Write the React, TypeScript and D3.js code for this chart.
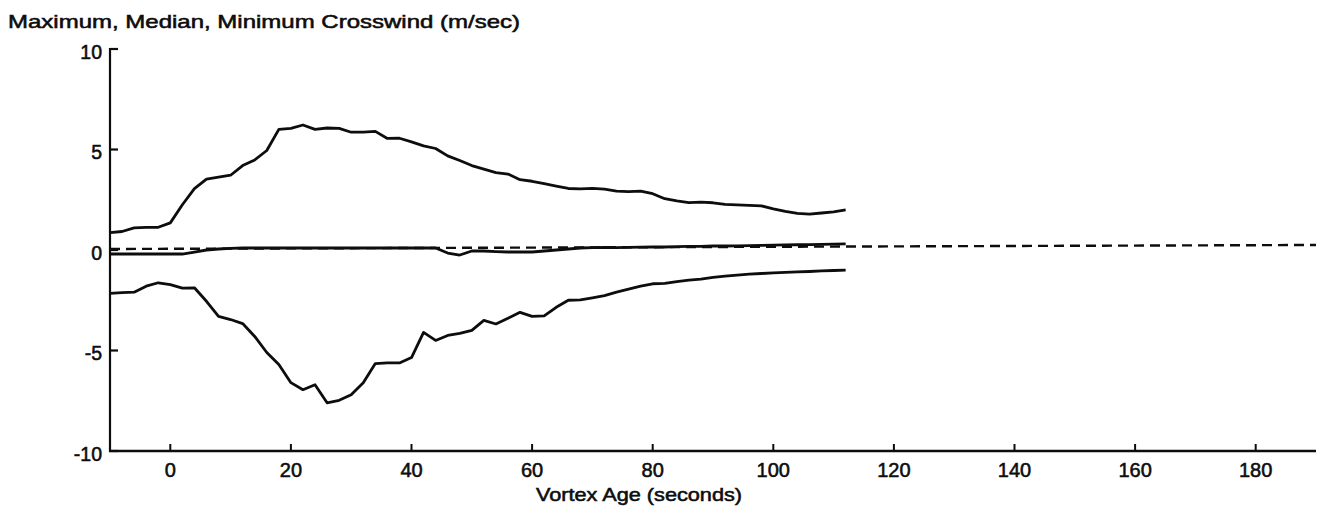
import React from "react";
import * as d3 from "d3";

const times = [
  -10, -8, -6, -4, -2, 0, 2, 4, 6, 8, 10, 12, 14, 16, 18, 20, 22, 24, 26, 28,
  30, 32, 34, 36, 38, 40, 42, 44, 46, 48, 50, 52, 54, 56, 58, 60, 62, 64, 66,
  68, 70, 72, 74, 76, 78, 80, 82, 84, 86, 88, 90, 92, 94, 96, 98, 100, 102,
  104, 106, 108, 110, 112,
];

const maxWind = [
  0.86, 0.92, 1.1, 1.13, 1.13, 1.35, 2.25, 3.05, 3.53, 3.62, 3.72, 4.2, 4.48,
  4.95, 6.0, 6.05, 6.22, 6.0, 6.07, 6.05, 5.86, 5.86, 5.9, 5.55, 5.56, 5.38,
  5.18, 5.05, 4.68, 4.45, 4.2, 4.02, 3.85, 3.78, 3.5, 3.42, 3.3, 3.18, 3.06,
  3.04, 3.07, 3.03, 2.93, 2.9, 2.93, 2.8, 2.55, 2.44, 2.36, 2.38, 2.35, 2.27,
  2.25, 2.22, 2.2, 2.05, 1.92, 1.82, 1.78, 1.84, 1.9, 2.0,
];

const medianWind = [
  -0.2, -0.2, -0.2, -0.2, -0.2, -0.2, -0.2, -0.1, 0.0, 0.05, 0.08, 0.1, 0.1,
  0.1, 0.1, 0.1, 0.1, 0.1, 0.1, 0.1, 0.1, 0.1, 0.1, 0.1, 0.1, 0.1, 0.1, 0.1,
  -0.15, -0.25, -0.05, -0.05, -0.08, -0.1, -0.1, -0.1, -0.05, 0.0, 0.05, 0.1,
  0.12, 0.13, 0.12, 0.13, 0.14, 0.15, 0.15, 0.17, 0.18, 0.18, 0.2, 0.2, 0.21,
  0.22, 0.23, 0.24, 0.25, 0.26, 0.27, 0.28, 0.29, 0.3,
];

const minWind = [
  -2.16, -2.12, -2.1, -1.8, -1.63, -1.72, -1.9, -1.88, -2.55, -3.3, -3.46,
  -3.66, -4.3, -5.1, -5.7, -6.6, -6.95, -6.7, -7.6, -7.48, -7.2, -6.6, -5.65,
  -5.62, -5.62, -5.35, -4.1, -4.5, -4.25, -4.15, -4.0, -3.5, -3.68, -3.4,
  -3.1, -3.3, -3.28, -2.85, -2.5, -2.48, -2.38, -2.27, -2.1, -1.95, -1.8,
  -1.68, -1.66, -1.57, -1.5, -1.45, -1.36, -1.3, -1.25, -1.2, -1.17, -1.14,
  -1.11, -1.09, -1.07, -1.04, -1.02, -1.0,
];

const zeroRefTimes = [-10, 190];
const zeroRefValues = [0.05, 0.25];

const xTicks = [0, 20, 40, 60, 80, 100, 120, 140, 160, 180];
const yTicks = [10, 5, 0, -5, -10];

const title = "Maximum, Median, Minimum Crosswind (m/sec)";
const xLabel = "Vortex Age (seconds)";

const FONT = "'Liberation Sans', Arial, Helvetica, sans-serif";
const INK = "#0d0d0d";

export default function App() {
  const x = d3.scaleLinear().domain([-10, 190]).range([110, 1316]);
  const y = d3.scaleLinear().domain([-10, 10]).range([451, 49]);

  const line = d3
    .line<number>()
    .x((_, i) => x(times[i]))
    .y((d) => y(d));

  const refLine = d3
    .line<number>()
    .x((_, i) => x(zeroRefTimes[i]))
    .y((d) => y(d));

  const x0 = x.range()[0];
  const xEnd = x.range()[1];
  const yBottom = y(-10);
  const yTop = y(10);

  const textStyle = {
    fontFamily: FONT,
    fill: INK,
    stroke: INK,
    strokeWidth: 0.55,
  } as const;

  return (
    <svg
      width={1334}
      height={514}
      style={{ position: "absolute", left: 0, top: 0, background: "#fff" }}
    >
      <rect x={0} y={0} width={1334} height={514} fill="#fff" />
      <text
        x={8}
        y={28}
        {...textStyle}
        fontSize={18.5}
        textLength={512}
        lengthAdjust="spacingAndGlyphs"
      >
        {title}
      </text>

      {/* axes */}
      <line x1={x0} y1={yTop - 1} x2={x0} y2={yBottom + 1} stroke={INK} strokeWidth={2.2} />
      <line x1={x0 - 1} y1={yBottom} x2={xEnd} y2={yBottom} stroke={INK} strokeWidth={2.6} />

      {yTicks.map((t) => (
        <g key={"y" + t}>
          <line x1={x0} y1={y(t)} x2={x0 + 8} y2={y(t)} stroke={INK} strokeWidth={2.2} />
          <text x={102} y={y(t) + 9.5} textAnchor="end" {...textStyle} fontSize={19.5}>
            {t}
          </text>
        </g>
      ))}

      {xTicks.map((t) => (
        <g key={"x" + t}>
          <line x1={x(t)} y1={yBottom} x2={x(t)} y2={yBottom - 7} stroke={INK} strokeWidth={2} />
          <text x={x(t)} y={477} textAnchor="middle" {...textStyle} fontSize={20}>
            {t}
          </text>
        </g>
      ))}

      <text
        x={639}
        y={501}
        textAnchor="middle"
        {...textStyle}
        fontSize={18.5}
        textLength={206}
        lengthAdjust="spacingAndGlyphs"
      >
        {xLabel}
      </text>

      {/* zero reference */}
      <path
        d={refLine(zeroRefValues) || ""}
        fill="none"
        stroke={INK}
        strokeWidth={2.4}
        strokeDasharray="10,6"
      />

      <path d={line(maxWind) || ""} fill="none" stroke={INK} strokeWidth={2.8} strokeLinejoin="round" />
      <path d={line(medianWind) || ""} fill="none" stroke={INK} strokeWidth={2.8} strokeLinejoin="round" />
      <path d={line(minWind) || ""} fill="none" stroke={INK} strokeWidth={2.8} strokeLinejoin="round" />
    </svg>
  );
}
